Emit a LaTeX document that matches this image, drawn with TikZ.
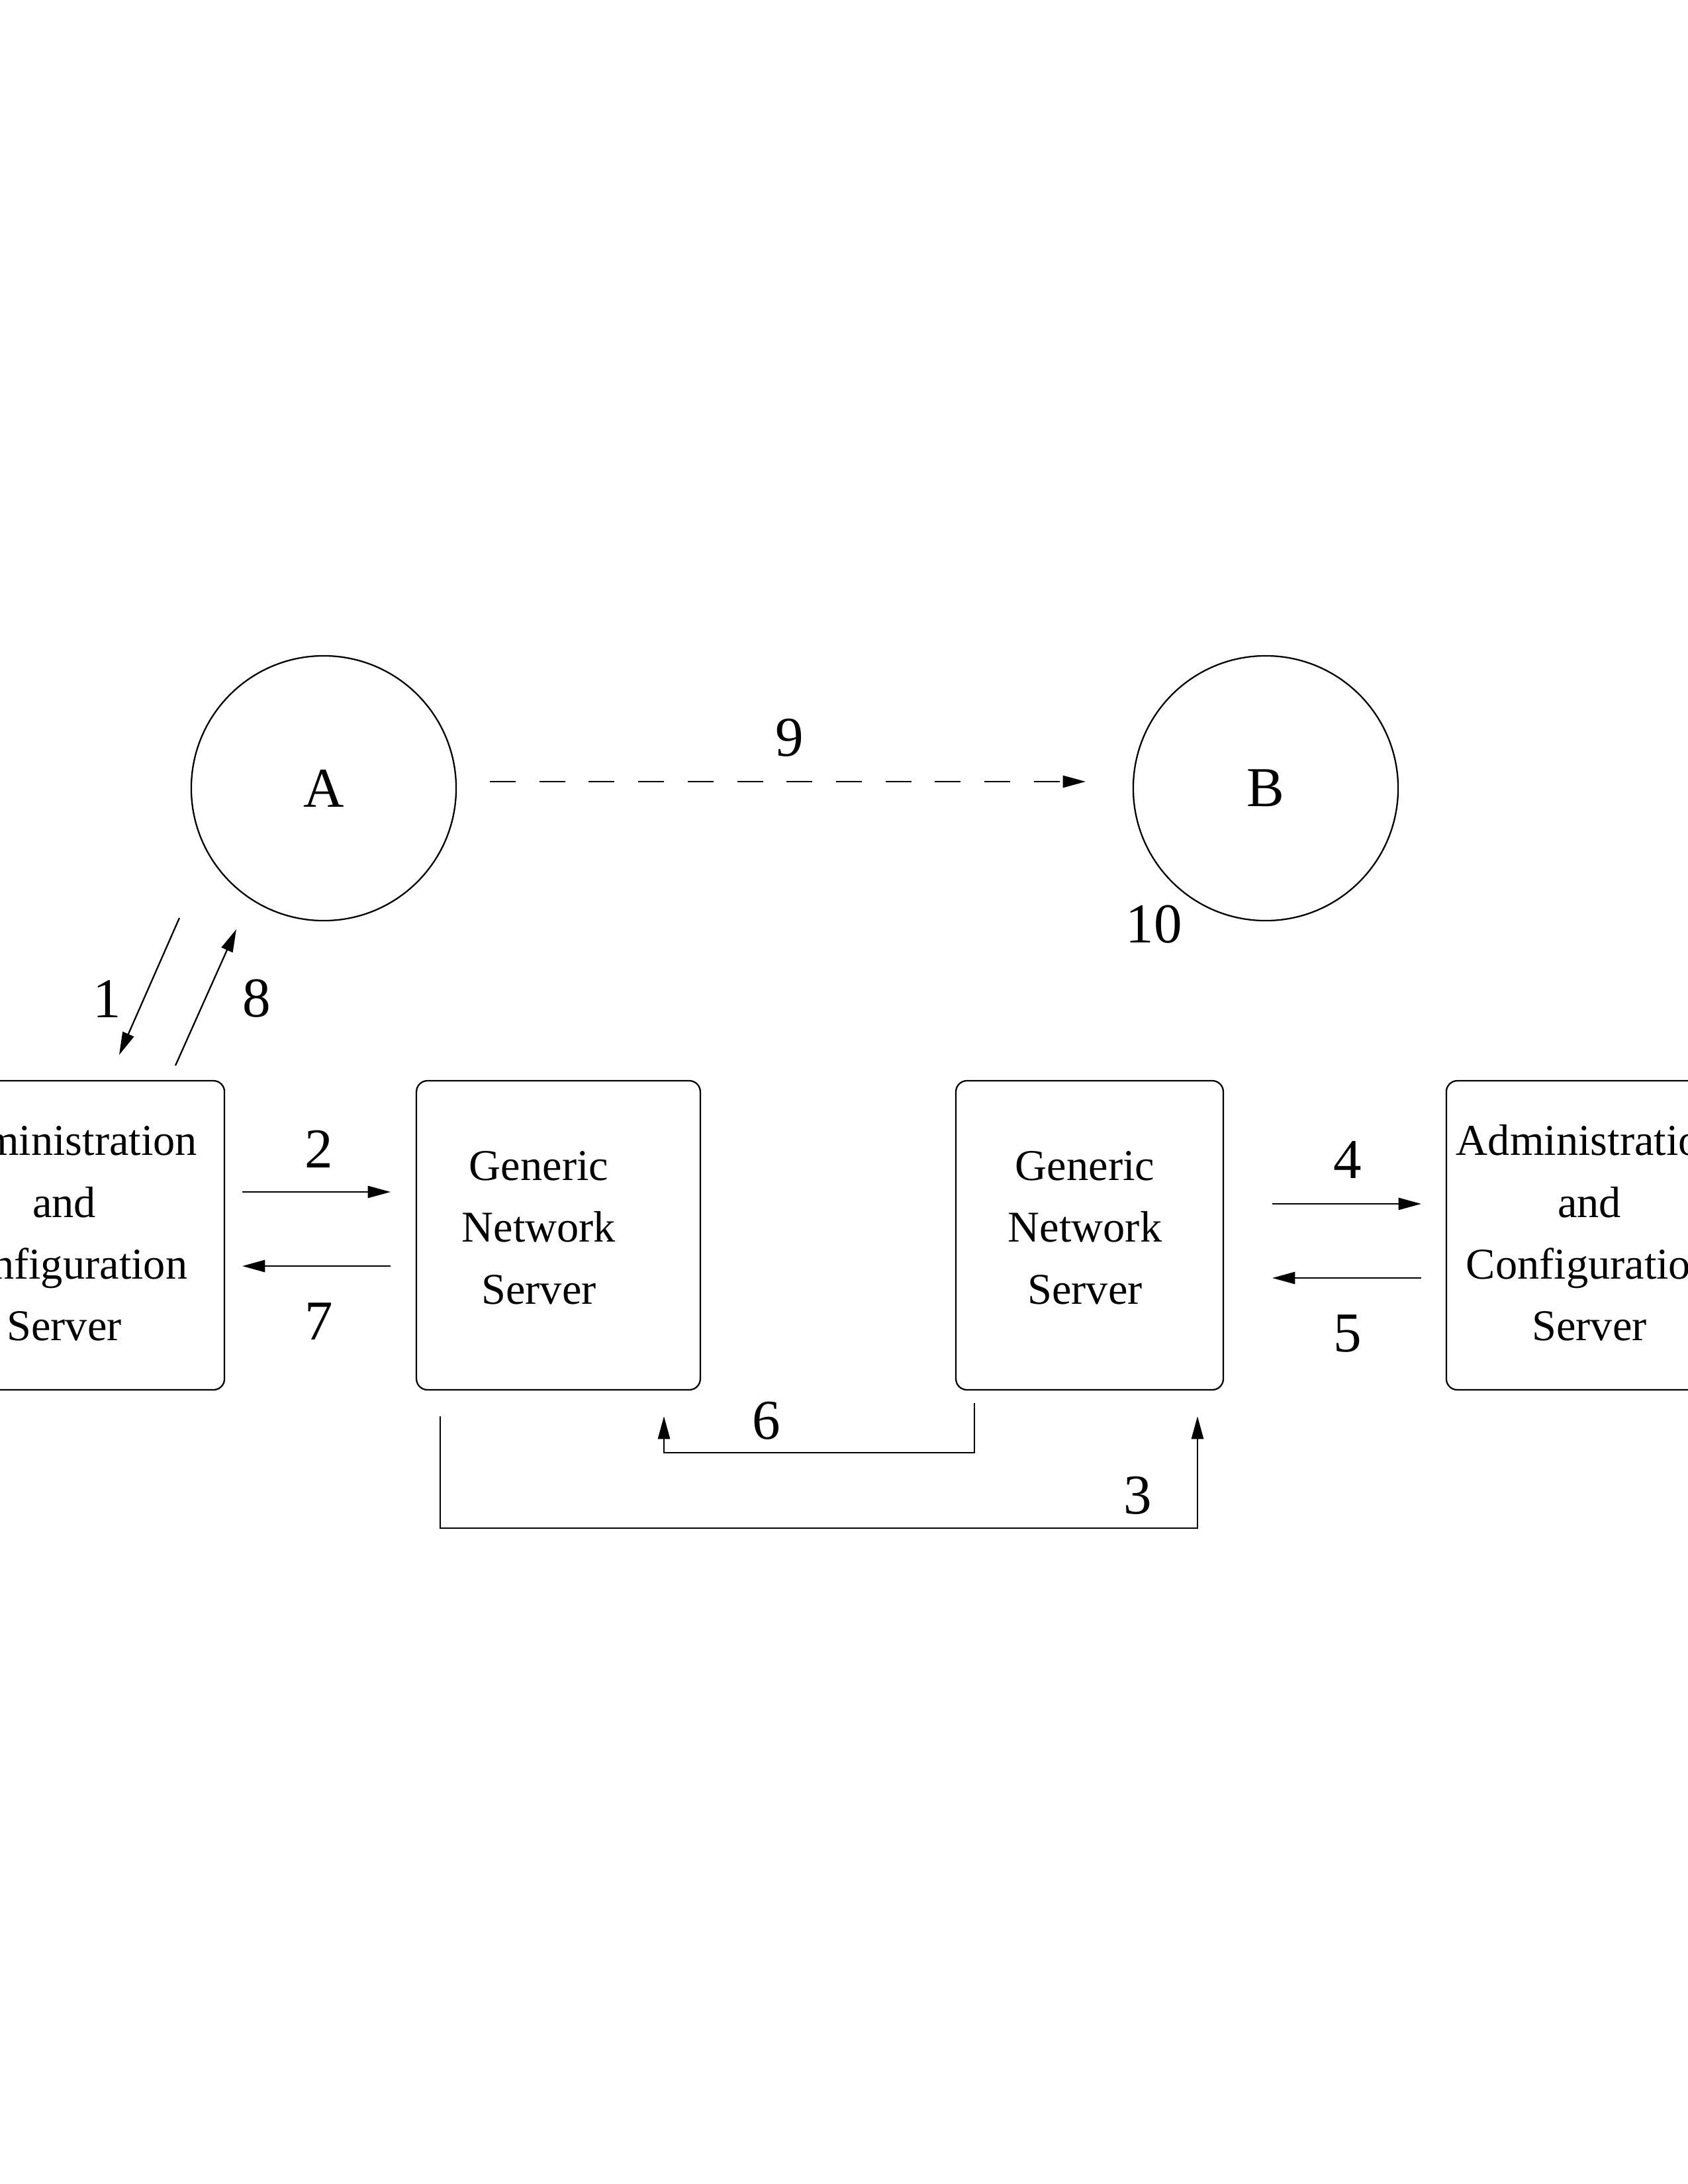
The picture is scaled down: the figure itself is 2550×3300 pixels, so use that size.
\documentclass[tikz,border=0pt]{standalone}
\usepackage{fontspec}
\setmainfont{Liberation Serif}
\usetikzlibrary{arrows.meta}
\begin{document}
% one unit = 1/300 inch; y grows downwards
\begin{tikzpicture}[x=0.0846667mm,y=-0.0846667mm,
  line width=0.55pt,
  arr/.style={-{Triangle[length=8.3pt,width=4.4pt]}},
  bigtxt/.style={font=\fontsize{20.5}{24}\selectfont, inner sep=0pt},
  boxtxt/.style={font=\fontsize{16}{22.5}\selectfont, align=center, inner sep=0pt},
  server/.style={draw, rounded corners=4pt, minimum height=112.5pt, inner sep=0pt},
  host/.style={draw, circle, minimum size=96.4pt, inner sep=0pt, font=\fontsize{20.5}{24}\selectfont},
]
\useasboundingbox (0,0) rectangle (2550,3300);
\clip (0,0) rectangle (2550,3300);

% hosts
\node[host] (A) at (489,1191) {A};
\node[host] (B) at (1912,1191) {B};

% server boxes
\node[server, minimum width=104.6pt] (acsL) at (122,1866.5) {};
\node[server, minimum width=103.3pt] (gnsL) at (843.5,1866.5) {};
\node[server, minimum width=97.3pt] (gnsR) at (1646,1866.5) {};
\node[server, minimum width=104.6pt] (acsR) at (2402,1866.5) {};

\node[boxtxt] (acsLt) at (97,1863) {Administration\\and\\Configuration\\Server};
\node[boxtxt] (gnsLt) at (814,1855) {Generic\\Network\\Server};
\node[boxtxt] (gnsRt) at (1639,1855) {Generic\\Network\\Server};
\node[boxtxt] (acsRt) at (2401,1863) {Administration\\and\\Configuration\\Server};

% connector end points
\coordinate (p1s) at (271,1387);  \coordinate (p1e) at (180,1594);
\coordinate (p8s) at (265,1610);  \coordinate (p8e) at (357,1404);
\coordinate (p2s) at (366,1801);  \coordinate (p2e) at (590,1801);
\coordinate (p7s) at (590,1913);  \coordinate (p7e) at (366,1913);
\coordinate (p4s) at (1922,1819); \coordinate (p4e) at (2147,1819);
\coordinate (p5s) at (2147,1931); \coordinate (p5e) at (1922,1931);
\coordinate (p6s) at (1472,2120); \coordinate (p6m) at (1472,2195);
\coordinate (p6n) at (1003,2195); \coordinate (p6e) at (1003,2140);
\coordinate (p3s) at (665,2140);  \coordinate (p3m) at (665,2309);
\coordinate (p3n) at (1809,2309); \coordinate (p3e) at (1809,2140);
\coordinate (p9s) at (740,1181);  \coordinate (p9e) at (1640,1181);

% connectors
\draw[arr] (p1s) -- (p1e);
\draw[arr] (p8s) -- (p8e);
\draw[arr] (p2s) -- (p2e);
\draw[arr] (p7s) -- (p7e);
\draw[arr] (p4s) -- (p4e);
\draw[arr] (p5s) -- (p5e);
\draw[arr] (p6s) -- (p6m) -- (p6n) -- (p6e);
\draw[arr] (p3s) -- (p3m) -- (p3n) -- (p3e);
\draw[arr, dash pattern=on 9.4pt off 8.6pt] (p9s) -- (p9e);

% step numbers
\node[bigtxt] (n1) at (162,1509) {1};
\node[bigtxt] (n8) at (388,1509) {8};
\node[bigtxt] (n2) at (482,1736) {2};
\node[bigtxt] (n7) at (482,1997) {7};
\node[bigtxt] (n4) at (2036,1752) {4};
\node[bigtxt] (n5) at (2036,2015) {5};
\node[bigtxt] (n6) at (1158,2147) {6};
\node[bigtxt] (n3) at (1719,2260) {3};
\node[bigtxt] (n9) at (1193,1115) {9};
\node[bigtxt] (n10) at (1743,1397) {10};
\end{tikzpicture}
\end{document}
